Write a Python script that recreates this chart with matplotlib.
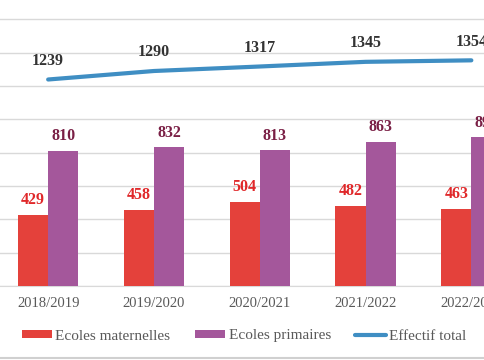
import matplotlib.pyplot as plt
import numpy as np

years = ['2018/2019', '2019/2020', '2020/2021', '2021/2022', '2022/2023']
maternelles = [429, 458, 504, 482, 463]
primaires = [810, 832, 813, 863, 891]
total = [1239, 1290, 1317, 1345, 1354]

red = '#e4413b'
purple = '#a4579b'
blue = '#3f8ec3'

fig = plt.figure(figsize=(4.85, 3.6), dpi=100)
# chart is cropped: axes run past the left and right edges
ax = fig.add_axes([-4.75 / 485, 74 / 360, 529 / 485, 300 / 360])

x = np.arange(len(years))
w = 0.285
b1 = ax.bar(x - w / 2, maternelles, w, color=red, label='Ecoles maternelles', zorder=3)
b2 = ax.bar(x + w / 2, primaires, w, color=purple, label='Ecoles primaires', zorder=3)
l1, = ax.plot(x, total, color=blue, lw=3, label='Effectif total', zorder=4,
              solid_capstyle='round')

font = 'Liberation Serif'
for i in range(len(years)):
    ax.text(x[i] - w / 2, maternelles[i] + 40, str(maternelles[i]), ha='center',
            va='bottom', color='#e0282a', fontsize=11.5, fontweight='bold', family=font)
    ax.text(x[i] + w / 2, primaires[i] + 40, str(primaires[i]), ha='center',
            va='bottom', color='#7a1f45', fontsize=11.5, fontweight='bold', family=font)
    ax.text(x[i], total[i] + 65, str(total[i]), ha='center', va='bottom',
            color='#333333', fontsize=11.5, fontweight='bold', family=font)

ax.set_xlim(-0.5, 4.5)
ax.set_ylim(0, 1800)
ax.set_yticks(np.arange(0, 1801, 200))
ax.yaxis.grid(True, color='#d9d9d9', lw=1, zorder=0)
ax.set_xticks(x)
ax.set_xticklabels(years, family=font, fontsize=10.5, color='#595959')
ax.tick_params(axis='both', length=0)
ax.tick_params(axis='x', pad=8)
ax.set_yticklabels([])
for s in ['top', 'left', 'right']:
    ax.spines[s].set_visible(False)
ax.spines['bottom'].set_color('#d9d9d9')

leg = fig.legend(handles=[b1, b2, l1], loc='center', bbox_to_anchor=(0.503, 24 / 360),
                 ncol=3, frameon=False, prop={'family': font, 'size': 11},
                 handlelength=2.0, handleheight=0.45, handletextpad=0.2,
                 columnspacing=1.6)
for t in leg.get_texts():
    t.set_color('#595959')

fig.add_artist(plt.Line2D([0, 1], [2 / 360, 2 / 360], color='#d0d0d0', lw=1.5))

fig.savefig('out.png', dpi=100)
